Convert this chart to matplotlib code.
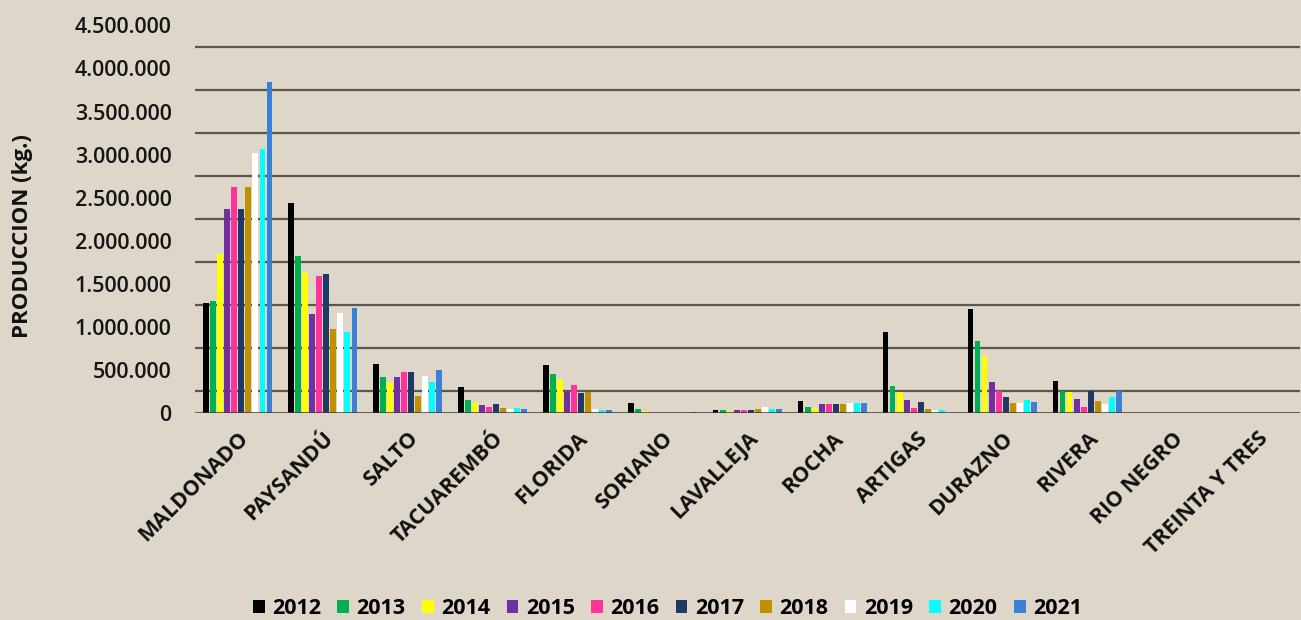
import matplotlib
matplotlib.use("Agg")
import matplotlib.pyplot as plt
import numpy as np

departments = ["MALDONADO", "PAYSANDÚ", "SALTO", "TACUAREMBÓ", "FLORIDA", "SORIANO",
               "LAVALLEJA", "ROCHA", "ARTIGAS", "DURAZNO", "RIVERA", "RIO NEGRO", "TREINTA Y TRES"]
years = ["2012", "2013", "2014", "2015", "2016", "2017", "2018", "2019", "2020", "2021"]

# production (kg) per year, one value per department (order as above)
y2012 = [1280000, 2440000, 570000, 300000, 560000, 120000, 30000, 140000, 940000, 1210000, 370000, 0, 0]
y2013 = [1300000, 1820000, 420000, 150000, 450000, 50000, 30000, 70000, 310000, 840000, 250000, 0, 0]
y2014 = [1840000, 1630000, 360000, 110000, 390000, 20000, 20000, 60000, 240000, 660000, 240000, 0, 0]
y2015 = [2370000, 1150000, 420000, 90000, 240000, 0, 30000, 100000, 150000, 360000, 160000, 0, 0]
y2016 = [2620000, 1590000, 470000, 70000, 330000, 0, 30000, 100000, 60000, 260000, 70000, 0, 0]
y2017 = [2370000, 1610000, 480000, 100000, 230000, 0, 30000, 100000, 130000, 190000, 260000, 0, 0]
y2018 = [2620000, 980000, 200000, 60000, 240000, 0, 50000, 100000, 50000, 120000, 140000, 0, 0]
y2019 = [3020000, 1160000, 430000, 50000, 40000, 0, 70000, 120000, 30000, 120000, 100000, 0, 0]
y2020 = [3070000, 940000, 360000, 60000, 30000, 0, 50000, 120000, 30000, 150000, 190000, 0, 0]
y2021 = [3840000, 1220000, 500000, 50000, 30000, 10000, 50000, 120000, 0, 130000, 250000, 0, 0]

series = [y2012, y2013, y2014, y2015, y2016, y2017, y2018, y2019, y2020, y2021]
colors = ["#000000", "#00b050", "#ffff00", "#7030a0", "#ff3399", "#1f3864",
          "#bf9000", "#ffffff", "#00ffff", "#3a80d6"]

yticks = [0, 500000, 1000000, 1500000, 2000000, 2500000, 3000000, 3500000, 4000000, 4500000]
ytick_labels = ["0", "500.000", "1.000.000", "1.500.000", "2.000.000", "2.500.000",
                "3.000.000", "3.500.000", "4.000.000", "4.500.000"]
grid_levels = [250000, 750000, 1250000, 1750000, 2250000, 2750000, 3250000, 3750000, 4250000]

bg = "#ddd6c9"
fig = plt.figure(figsize=(13.01, 6.2), dpi=100, facecolor=bg)
ax = fig.add_axes([0.150, 0.334, 0.849, 0.625])
ax.set_facecolor(bg)

x = np.arange(len(departments))
step = 0.083
width = 0.066
for i, (vals, c, yr) in enumerate(zip(series, colors, years)):
    ax.bar(x + (i - 4.5) * step, vals, width=width, color=c, label=yr, zorder=3)

for g in grid_levels:
    ax.axhline(g, color="#5a5750", lw=1.6, zorder=1)
ax.axhline(0, color="#3a3833", lw=1.8, zorder=4)

ax.set_xlim(-0.5, len(departments) - 0.5)
ax.set_ylim(0, 4500000)
ax.set_yticks(yticks)
ax.set_yticklabels(ytick_labels, fontsize=15.5, fontweight="semibold", fontfamily="Open Sans",
                   color="#151515")
ax.tick_params(axis="y", length=0, pad=17)
ax.set_xticks(x)
ax.set_xticklabels(departments, rotation=45, ha="right", rotation_mode="anchor",
                   fontsize=15.5, fontweight="bold", fontfamily="Open Sans", color="#111111")
ax.tick_params(axis="x", length=0, pad=11)
for s in ax.spines.values():
    s.set_visible(False)

fig.text(0.017, 0.62, "PRODUCCION (kg.)", rotation=90, ha="center", va="center",
         fontsize=16, fontweight="bold", fontfamily="Open Sans", color="#111111")

leg = fig.legend(loc="lower center", bbox_to_anchor=(0.513, -0.03), ncol=10, frameon=False,
                 handlelength=0.55, handleheight=0.6, handletextpad=0.35, columnspacing=0.75,
                 prop={"family": "Open Sans", "weight": "bold", "size": 15.5})

fig.savefig("out.png", dpi=100, facecolor=bg)
